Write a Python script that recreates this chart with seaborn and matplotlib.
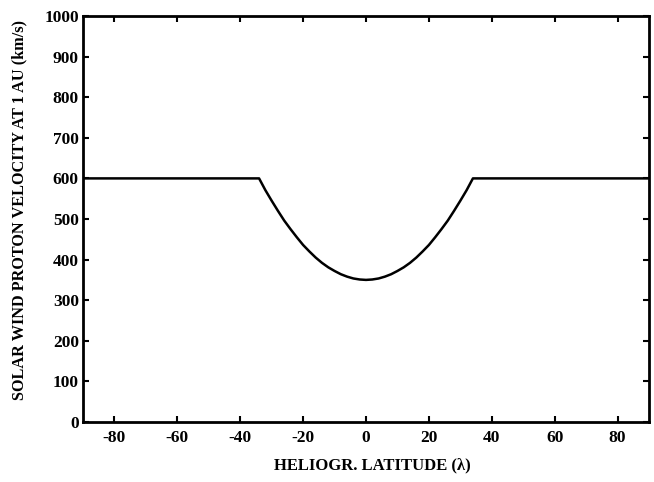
import matplotlib
matplotlib.use("Agg")
import matplotlib.pyplot as plt
import seaborn as sns
import pandas as pd

latitude = [-90, -34, -32, -30, -28, -26, -24, -22, -20, -18, -16, -14, -12, -10,
            -8, -6, -4, -2, 0, 2, 4, 6, 8, 10, 12, 14, 16, 18, 20, 22, 24, 26,
            28, 30, 32, 34, 90]
velocity = [600, 600, 571, 545, 520, 496, 475, 455, 436, 420, 405, 392, 381, 372,
            364, 358, 353.5, 351, 350, 351, 353.5, 358, 364, 372, 381, 392, 405,
            420, 436, 455, 475, 496, 520, 545, 571, 600, 600]
xticks = [-80, -60, -40, -20, 0, 20, 40, 60, 80]
yticks = [0, 100, 200, 300, 400, 500, 600, 700, 800, 900, 1000]

sns.set_style("ticks")
plt.rcParams['font.family'] = ['Liberation Serif', 'DejaVu Serif']
plt.rcParams['axes.unicode_minus'] = False
plt.rcParams['text.color'] = 'black'
plt.rcParams['axes.labelcolor'] = 'black'

df = pd.DataFrame({"lat": latitude, "v": velocity})

fig = plt.figure(figsize=(6.54, 4.82), dpi=100)
ax = fig.add_axes([83/654, 60/482, 566/654, 406/482])
sns.lineplot(data=df, x="lat", y="v", ax=ax, color="black", linewidth=1.8, sort=False)

ax.set_xlim(-90, 90)
ax.set_ylim(0, 1000)
ax.set_xticks(xticks)
ax.set_yticks(yticks)
ax.set_xticklabels([str(t) for t in xticks], fontsize=12.5, fontweight="bold")
ax.set_yticklabels([str(t) for t in yticks], fontsize=12.5, fontweight="bold")
ax.tick_params(axis="x", direction="in", length=4, width=1.5, top=True,
               labeltop=False, pad=6, colors="black")
ax.tick_params(axis="y", direction="in", length=4, width=1.5, right=True,
               labelright=False, pad=3, colors="black")
for s in ax.spines.values():
    s.set_linewidth(2)
    s.set_color("black")
    s.set_visible(True)

ax.set_xlabel("HELIOGR. LATITUDE (λ)", fontsize=12, fontweight="bold", color="black")
ax.set_ylabel("SOLAR WIND PROTON VELOCITY AT 1 AU (km/s)", fontsize=11.7,
              fontweight="bold", color="black")
ax.xaxis.set_label_coords(0.512, -0.087)
ax.yaxis.set_label_coords(-0.099, 0.521)

fig.savefig("out.png", dpi=100)
